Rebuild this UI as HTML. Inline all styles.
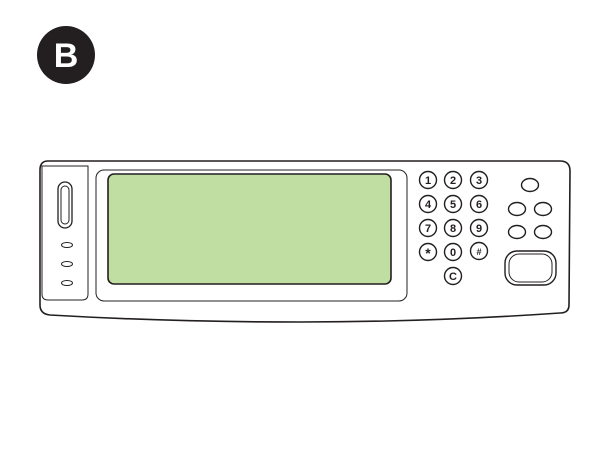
<!DOCTYPE html>
<html><head><style>body{margin:0;background:#fff}</style></head><body>
<svg width="600" height="460" viewBox="0 0 600 460" xmlns="http://www.w3.org/2000/svg">
<circle cx="66" cy="55" r="29" fill="#231f20"/>
<text x="66" y="67" text-anchor="middle" font-family="Liberation Sans, sans-serif" font-weight="bold" font-size="34" fill="#fff">B</text>
<g fill="none" stroke="#231f20" stroke-width="1.6">
<path d="M48 161 L560 161 Q570 161 570 171 L569 305 Q569 313 560 313 Q430 322 300 322 Q170 322 50 315 Q40 314 40 305 L40 170 Q40 161 48 161 Z" fill="#fff"/>
<path d="M42 166 L88 166 L88 294 Q88 300 82 300 L48 300 Q42 300 42 294 Z" stroke-width="1"/>
<rect x="96" y="170" width="311" height="131" rx="8" stroke-width="1"/>
<rect x="108" y="174" width="283" height="110" rx="6" fill="#c1dea2"/>
<rect x="58" y="182" width="14" height="46" rx="7" stroke-width="1.3"/>
<rect x="61" y="186" width="8" height="38" rx="4" stroke-width="1"/>
<ellipse cx="67" cy="245" rx="5.5" ry="2.5" stroke-width="1"/>
<ellipse cx="67" cy="264" rx="5.5" ry="2.5" stroke-width="1"/>
<ellipse cx="67" cy="283" rx="5.5" ry="2.5" stroke-width="1"/>
<g stroke-width="1.4">
<circle cx="428" cy="180" r="8.5"/><circle cx="453" cy="180" r="8.5"/><circle cx="479" cy="180" r="8.5"/>
<circle cx="428" cy="204" r="8.5"/><circle cx="453" cy="204" r="8.5"/><circle cx="479" cy="204" r="8.5"/>
<circle cx="428" cy="228" r="8.5"/><circle cx="453" cy="228" r="8.5"/><circle cx="479" cy="228" r="8.5"/>
<circle cx="428" cy="252" r="8.5"/><circle cx="453" cy="252" r="8.5"/><circle cx="479" cy="251" r="8.5"/>
<circle cx="453" cy="276" r="8.5"/>
<ellipse cx="530" cy="185" rx="8.5" ry="6.5"/>
<ellipse cx="517" cy="209" rx="8.5" ry="6.5"/><ellipse cx="543" cy="209" rx="8.5" ry="6.5"/>
<ellipse cx="517" cy="232" rx="8.5" ry="6.5"/><ellipse cx="543" cy="232" rx="8.5" ry="6.5"/>
<rect x="505" y="251" width="51" height="34" rx="12"/>
<rect x="509" y="254" width="43" height="28" rx="10" stroke-width="1"/>
</g>
</g>
<g font-family="Liberation Sans, sans-serif" font-weight="bold" font-size="11" text-anchor="middle" fill="#231f20">
<text x="428" y="184">1</text><text x="453" y="184">2</text><text x="479" y="184">3</text>
<text x="428" y="208">4</text><text x="453" y="208">5</text><text x="479" y="208">6</text>
<text x="428" y="232">7</text><text x="453" y="232">8</text><text x="479" y="232">9</text>
<text x="428" y="258" font-size="14">*</text><text x="453" y="256">0</text><text x="479" y="255" font-size="9">#</text>
<text x="453" y="280">C</text>
</g>
</svg>
</body></html>
